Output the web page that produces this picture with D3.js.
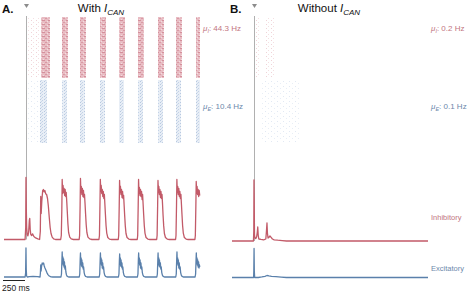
<!DOCTYPE html>
<html>
<head>
<meta charset="utf-8">
<script src="https://cdn.jsdelivr.net/npm/d3@7"></script>
<style>
  body { margin: 0; background: #fff; }
  svg { display: block; font-family: "Liberation Sans", Arial, sans-serif; }
</style>
</head>
<body>
<svg id="chart" width="468" height="295"></svg>
<script>
// time of the stimulus (ms) and total duration shown
const stimTime = 250;
const duration = 2230;

// population rates, with I_CAN: [time ms, rate Hz]
const inhRateA = [
  [0, 0], [240, 0], [247, 60], [250, 310], [254, 150], [258, 60], [264, 25], [272, 18], [280, 35], [288, 95],
  [293, 105], [298, 50], [305, 25], [315, 20], [325, 28], [340, 15], [360, 8], [385, 3], [405, 0],
  [413, 40], [418, 215], [423, 130], [430, 190], [440, 245], [448, 250], [456, 238], [465, 245], [475, 228],
  [485, 225], [495, 205], [505, 165], [515, 110], [525, 60], [535, 30], [548, 12], [565, 3], [585, 0],
  [645, 0], [652, 20], [658, 150], [662, 300], [667, 230], [672, 270], [678, 235], [684, 255], [690, 220],
  [696, 250], [702, 215], [708, 235], [714, 190], [720, 140], [727, 80], [735, 35], [748, 12], [765, 3], [790, 0],
  [855, 0], [860, 20], [866, 170], [870, 305], [875, 235], [880, 265], [886, 225], [892, 255], [898, 215],
  [904, 245], [910, 210], [916, 225], [922, 180], [928, 130], [935, 75], [943, 35], [955, 12], [975, 3], [1000, 0],
  [1080, 0], [1086, 20], [1092, 180], [1096, 300], [1101, 240], [1106, 270], [1112, 230], [1118, 250], [1124, 215],
  [1130, 240], [1136, 205], [1142, 225], [1148, 175], [1154, 125], [1161, 70], [1169, 32], [1181, 10], [1200, 2], [1225, 0],
  [1300, 0], [1305, 20], [1311, 170], [1315, 295], [1320, 235], [1325, 265], [1331, 225], [1337, 250], [1343, 210],
  [1349, 240], [1355, 205], [1361, 220], [1367, 170], [1373, 120], [1380, 68], [1388, 30], [1400, 10], [1420, 2], [1445, 0],
  [1516, 0], [1521, 20], [1527, 175], [1531, 300], [1536, 230], [1541, 260], [1547, 220], [1553, 250], [1559, 215],
  [1565, 240], [1571, 200], [1577, 225], [1583, 175], [1589, 125], [1596, 70], [1604, 32], [1616, 10], [1636, 2], [1660, 0],
  [1737, 0], [1742, 20], [1748, 170], [1752, 295], [1757, 235], [1762, 265], [1768, 225], [1774, 250], [1780, 210],
  [1786, 240], [1792, 205], [1798, 225], [1804, 175], [1810, 120], [1817, 68], [1825, 30], [1837, 10], [1857, 2], [1880, 0],
  [1952, 0], [1957, 20], [1963, 175], [1967, 300], [1972, 235], [1977, 265], [1983, 225], [1989, 255], [1995, 215],
  [2001, 240], [2007, 205], [2013, 225], [2019, 175], [2025, 125], [2032, 70], [2040, 32], [2052, 10], [2072, 2], [2095, 0],
  [2172, 0], [2177, 20], [2183, 170], [2187, 290], [2192, 230], [2197, 265], [2203, 225], [2209, 250], [2215, 215],
  [2221, 245], [2227, 220]
];
const excRateA = [
  [0, 0], [240, 0], [246, 20], [250, 145], [253, 40], [257, 5], [265, 0], [290, 2], [330, 3], [380, 2], [410, 0],
  [414, 20], [418, 60], [422, 30], [428, 55], [435, 70], [442, 65], [450, 70], [458, 55], [466, 45], [476, 35],
  [488, 22], [500, 12], [515, 5], [535, 1], [555, 0],
  [648, 0], [654, 15], [659, 85], [662, 125], [666, 70], [670, 100], [674, 60], [678, 90], [683, 50], [688, 75],
  [693, 40], [698, 55], [704, 25], [711, 10], [720, 3], [735, 0],
  [856, 0], [862, 15], [867, 90], [870, 120], [874, 65], [878, 95], [882, 55], [886, 85], [891, 50], [896, 70],
  [901, 40], [906, 50], [912, 22], [919, 9], [928, 3], [945, 0],
  [1083, 0], [1089, 15], [1094, 85], [1097, 120], [1101, 70], [1105, 95], [1109, 60], [1113, 85], [1118, 45],
  [1123, 70], [1128, 40], [1133, 50], [1139, 22], [1146, 9], [1155, 3], [1170, 0],
  [1302, 0], [1308, 15], [1313, 85], [1316, 115], [1320, 65], [1324, 95], [1328, 55], [1332, 85], [1337, 50],
  [1342, 70], [1347, 40], [1352, 50], [1358, 22], [1365, 9], [1374, 3], [1390, 0],
  [1518, 0], [1524, 15], [1529, 90], [1532, 120], [1536, 70], [1540, 95], [1544, 60], [1548, 85], [1553, 45],
  [1558, 70], [1563, 40], [1568, 50], [1574, 22], [1581, 9], [1590, 3], [1605, 0],
  [1739, 0], [1745, 15], [1750, 85], [1753, 120], [1757, 65], [1761, 95], [1765, 55], [1769, 85], [1774, 50],
  [1779, 70], [1784, 40], [1789, 50], [1795, 22], [1802, 9], [1811, 3], [1825, 0],
  [1954, 0], [1960, 15], [1965, 90], [1968, 125], [1972, 70], [1976, 95], [1980, 60], [1984, 85], [1989, 45],
  [1994, 70], [1999, 40], [2004, 50], [2010, 22], [2017, 9], [2026, 3], [2040, 0],
  [2174, 0], [2180, 15], [2185, 85], [2188, 120], [2192, 70], [2196, 95], [2200, 60], [2204, 85], [2209, 50],
  [2214, 75], [2219, 45], [2224, 60], [2227, 50]
];

// population rates, without I_CAN
const inhRateB = [
  [0, 0], [244, 0], [248, 50], [250, 305], [253, 180], [256, 30], [262, 15], [270, 12], [280, 20], [288, 45],
  [293, 70], [298, 30], [305, 10], [330, 8], [360, 6], [385, 10], [392, 50], [398, 90], [403, 40], [410, 15],
  [420, 18], [432, 25], [445, 18], [460, 10], [480, 6], [520, 4], [570, 2], [620, 0], [2230, 0]
];
const excRateB = [
  [0, 0], [246, 0], [248, 30], [251, 145], [254, 30], [258, 0], [300, 0], [340, 3], [375, 6], [398, 10],
  [420, 8], [450, 6], [500, 4], [560, 2], [620, 0], [2230, 0]
];

// spike raster bands [start ms, end ms]
const inhBurstsA = [[420, 525], [656, 722], [864, 930], [1091, 1157], [1310, 1376], [1526, 1594], [1747, 1815], [1962, 2030], [2182, 2227]];
const excBurstsA = [[415, 500], [656, 712], [864, 922], [1091, 1147], [1310, 1366], [1526, 1584], [1747, 1805], [1962, 2020], [2182, 2227]];
const inhSparseA = [[250, 405]];
const excSparseA = [[250, 420]];
const inhSparseB = [[255, 340], [375, 480]];
const excSparseB = [[330, 780]];

const panels = [
  { letter: 'A.', title: 'With ', x0: 4, inhRate: inhRateA, excRate: excRateA,
    inhBursts: inhBurstsA, excBursts: excBurstsA, inhSparse: inhSparseA, excSparse: excSparseA,
    muI: '44.3', muE: '10.4', inhBase: 239.5, excBase: 277, legend: false, scaleBar: true },
  { letter: 'B.', title: 'Without ', x0: 232, inhRate: inhRateB, excRate: excRateB,
    inhBursts: [], excBursts: [], inhSparse: inhSparseB, excSparse: excSparseB,
    muI: '0.2', muE: '0.1', inhBase: 241, excBase: 277.5, legend: true, scaleBar: false }
];

const red = '#c25a68';
const blue = '#5a80ab';
const redText = '#c27580';
const blueText = '#6c88ab';

const svg = d3.select('#chart');
const defs = svg.append('defs');

// raster textures (styling only): background tint + sparse darker ticks
function makePattern(id, w, h, bg, dots) {
  const p = defs.append('pattern').attr('id', id).attr('patternUnits', 'userSpaceOnUse')
    .attr('width', w).attr('height', h);
  if (bg) p.append('rect').attr('width', w).attr('height', h).attr('fill', bg);
  dots.forEach(([x, y, c, dw]) => p.append('rect').attr('x', x).attr('y', y)
    .attr('width', dw || 1).attr('height', 1).attr('fill', c));
}
makePattern('patI', 6, 4, '#e8bcc3', [[0, 0, '#d48f9b', 3], [3, 2, '#d99aa5', 2], [5, 1, '#f3dde0'], [1, 3, '#f3dde0']]);
makePattern('patE', 4, 3, '#e8eef6', [[0, 0, '#b8c9e0'], [2, 1, '#c3d2e6'], [1, 2, '#cdd9ea']]);
makePattern('patIs', 5, 4, null, [[1, 0, '#f0d3d8'], [3, 2, '#f4dfe2']]);
makePattern('patEs', 6, 5, null, [[1, 1, '#e2e9f3'], [4, 3, '#e8eef6']]);

const inhTop = 17, inhBottom = 78;
const excTop = 80, excBottom = 143;
const rateK = 0.2; // px per Hz

panels.forEach((p) => {
  const x = d3.scaleLinear().domain([0, duration]).range([p.x0, p.x0 + 196]);
  const g = svg.append('g');

  // raster bands
  const bands = [
    [p.inhSparse, 'patIs', inhTop, inhBottom],
    [p.inhBursts, 'patI', inhTop, inhBottom],
    [p.excSparse, 'patEs', excTop, excBottom],
    [p.excBursts, 'patE', excTop, excBottom]
  ];
  bands.forEach(([data, pat, y0, y1]) => {
    g.selectAll(null).data(data).join('rect')
      .attr('x', (d) => Math.round(x(d[0])))
      .attr('y', y0)
      .attr('width', (d) => Math.max(1, Math.round(x(d[1]) - x(d[0]))))
      .attr('height', y1 - y0)
      .attr('fill', `url(#${pat})`);
  });

  // stimulus line + marker
  const sx = Math.round(x(stimTime)) + 0.5;
  g.append('line').attr('x1', sx).attr('x2', sx).attr('y1', 16).attr('y2', p.inhBase)
    .attr('stroke', '#b0b0b0').attr('stroke-width', 1);
  g.append('path').attr('d', `M${sx - 2.5},4 L${sx + 2.5},4 L${sx},8 Z`).attr('fill', '#8c8c8c');

  // rate traces
  const traces = [[p.inhRate, p.inhBase, red], [p.excRate, p.excBase, blue]];
  traces.forEach(([data, base, color]) => {
    const line = d3.line().x((d) => x(d[0])).y((d) => base - d[1] * rateK);
    g.append('path').datum(data).attr('d', line)
      .attr('fill', 'none').attr('stroke', color).attr('stroke-width', 1.3).attr('stroke-linejoin', 'round');
  });

  // panel letter + title
  svg.append('text').attr('x', p.x0 - 2).attr('y', 13).attr('font-size', 11.5).attr('font-weight', 'bold')
    .attr('fill', '#111').text(p.letter);
  const t = svg.append('text').attr('x', p.x0 + 97).attr('y', 12).attr('text-anchor', 'middle')
    .attr('font-size', 11.5).attr('fill', '#111');
  t.append('tspan').text(p.title);
  t.append('tspan').attr('font-style', 'italic').text('I');
  t.append('tspan').attr('font-style', 'italic').attr('font-size', 8).attr('dy', 3).text('CAN');

  // mean rate labels
  const lx = p.x0 + 199;
  [[p.muI, 'I', 31, redText], [p.muE, 'E', 109, blueText]].forEach(([v, sub, y, c]) => {
    const tx = svg.append('text').attr('x', lx).attr('y', y).attr('font-size', 8).attr('fill', c);
    tx.append('tspan').attr('font-style', 'italic').text('μ');
    tx.append('tspan').attr('font-style', 'italic').attr('font-size', 5.5).attr('dy', 2).text(sub);
    tx.append('tspan').attr('dy', -2).text(`: ${v} Hz`);
  });

  if (p.legend) {
    svg.append('text').attr('x', lx).attr('y', 220).attr('font-size', 7.5).attr('fill', redText).text('Inhibitory');
    svg.append('text').attr('x', lx).attr('y', 271).attr('font-size', 7.5).attr('fill', blueText).text('Excitatory');
  }

  if (p.scaleBar) {
    svg.append('line').attr('x1', x(0) - 1).attr('x2', x(250) - 1).attr('y1', 280.5).attr('y2', 280.5)
      .attr('stroke', '#222').attr('stroke-width', 1);
    svg.append('text').attr('x', x(0) - 2).attr('y', 291).attr('font-size', 8.5).attr('fill', '#222').text('250 ms');
  }
});
</script>
</body>
</html>
